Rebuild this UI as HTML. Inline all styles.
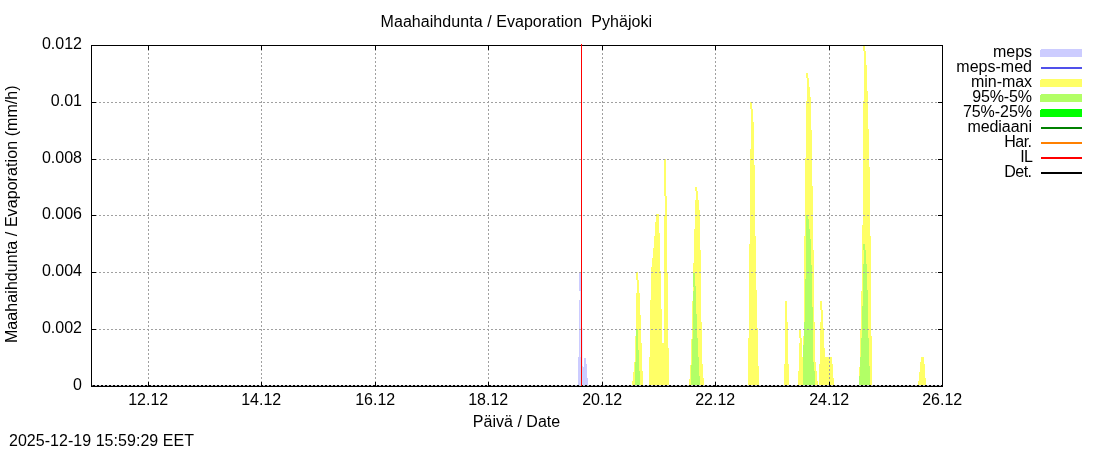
<!DOCTYPE html>
<html><head><meta charset="utf-8">
<style>
html,body{margin:0;padding:0;background:#fff;}
body{width:1100px;height:450px;overflow:hidden;font-family:"Liberation Sans",sans-serif;}
svg{display:block;will-change:transform;}
text{white-space:pre;font-family:"Liberation Sans",sans-serif;font-size:16px;fill:#000;}
</style></head><body>
<svg width="1100" height="450" viewBox="0 0 1100 450">
<rect width="1100" height="450" fill="#fff"/>
<g shape-rendering="crispEdges">
<path fill="#ccccff" d="M578 357H579V385H578ZM579 272H581V291H579ZM579 300H580V385H579ZM583 367H584V385H583ZM584 358H586V385H584ZM586 364H587V385H586ZM587 378H588V385H587Z"/>
<path fill="#dfe4ff" d="M580 291H581V357H580Z"/>
<path fill="#c8d8fb" d="M580 357H581V385H580ZM582 366H583V385H582Z"/>
<path fill="#ececff" d="M582 328H583V366H582Z"/>
<path fill="#ffff66" d="M636 272H638V280H636ZM637 280H639V293H637ZM636 293H640V315H636ZM636 315H641V336H636ZM635 336H641V343H635ZM635 343H642V362H635ZM634 362H642V371H634ZM634 371H643V372H634ZM633 372H643V381H633ZM632 381H643V385H632Z"/>
<path fill="#b2ff66" d="M636 329H638V350H636ZM636 350H639V362H636ZM635 362H639V371H635ZM635 371H640V385H635Z"/>
<path fill="#ffff66" d="M656 214H659V222H656ZM655 222H659V233H655ZM655 233H660V236H655ZM654 236H660V248H654ZM653 248H660V258H653ZM652 258H660V267H652ZM651 267H660V271H651ZM651 271H661V300H651ZM650 300H661V309H650ZM650 309H662V343H650ZM650 343H663V357H650ZM649 357H663V385H649Z"/>
<path fill="#ffff66" d="M664 159H666V196H664ZM665 196H667V216H665ZM664 216H667V272H664ZM664 272H668V343H664ZM663 343H668V348H663ZM663 348H669V385H663Z"/>
<path fill="#ffff66" d="M695 187H697V191H695ZM696 191H698V200H696ZM695 200H699V210H695ZM695 210H700V229H695ZM694 229H700V250H694ZM694 250H701V263H694ZM693 263H701V301H693ZM692 301H701V322H692ZM692 322H702V339H692ZM691 339H702V364H691ZM691 364H703V365H691ZM690 365H703V378H690ZM690 378H704V379H690ZM689 379H704V385H689Z"/>
<path fill="#b2ff66" d="M693 273H695V286H693ZM693 286H696V314H693ZM693 314H697V338H693ZM693 338H698V339H693ZM692 339H698V357H692ZM692 357H699V365H692ZM691 365H699V376H691ZM691 376H700V385H691Z"/>
<path fill="#ffff66" d="M693 287H694V291H693Z"/>
<path fill="#ffff66" d="M750 102H752V109H750ZM751 109H753V122H751ZM751 122H754V149H751ZM750 149H754V165H750ZM750 165H755V236H750ZM750 236H756V244H750ZM749 244H756V290H749ZM749 290H757V328H749ZM749 328H758V338H749ZM748 338H758V366H748ZM748 366H759V385H748Z"/>
<path fill="#ffff66" d="M785 301H787V322H785ZM785 322H788V364H785ZM784 364H789V385H784Z"/>
<path fill="#ffff66" d="M799 330H801V338H799ZM800 338H802V343H800ZM799 343H802V357H799ZM799 357H803V371H799ZM798 371H803V385H798Z"/>
<path fill="#ffff66" d="M806 73H808V78H806ZM807 78H809V87H807ZM807 87H810V97H807ZM807 97H811V101H807ZM806 101H811V130H806ZM806 130H812V158H806ZM805 158H812V186H805ZM805 186H813V236H805ZM804 236H813V250H804ZM804 250H814V322H804ZM804 322H815V336H804ZM803 336H815V362H803ZM803 362H816V371H803ZM803 371H817V381H803ZM803 381H818V385H803Z"/>
<path fill="#b2ff66" d="M806 215H808V219H806ZM806 219H809V229H806ZM806 229H810V239H806ZM806 239H811V265H806ZM806 265H812V279H806ZM805 279H812V307H805ZM805 307H813V322H805ZM804 322H813V345H804ZM803 345H813V362H803ZM803 362H814V371H803ZM803 371H815V385H803Z"/>
<path fill="#ffff66" d="M820 301H822V310H820ZM821 310H823V322H821ZM820 322H823V328H820ZM820 328H824V348H820ZM820 348H825V357H820ZM820 357H832V364H820ZM819 364H833V378H819ZM819 378H834V385H819Z"/>
<path fill="#ffff66" d="M863 46H865V51H863ZM864 51H866V65H864ZM864 65H867V91H864ZM864 91H868V101H864ZM863 101H868V129H863ZM863 129H869V167H863ZM863 167H870V225H863ZM862 225H870V236H862ZM862 236H871V291H862ZM861 291H871V329H861ZM860 329H871V336H860ZM860 336H872V367H860ZM859 367H872V385H859Z"/>
<path fill="#b2ff66" d="M863 244H865V250H863ZM864 250H866V264H864ZM863 264H867V290H863ZM863 290H868V306H863ZM862 306H868V338H862ZM861 338H869V357H861ZM860 357H869V366H860ZM860 366H870V376H860ZM859 376H870V385H859Z"/>
<path fill="#ffff66" d="M921 357H924V362H921ZM920 362H924V364H920ZM920 364H925V372H920ZM919 372H925V378H919ZM919 378H926V381H919ZM918 381H926V385H918Z"/>
</g>
<g stroke="#a0a0a0" stroke-width="1" stroke-dasharray="2 2" shape-rendering="crispEdges" fill="none">
<path d="M91 102.5H942M91 159.5H942M91 215.5H942M91 272.5H942M91 329.5H942"/>
<path d="M148.5 45V386M261.5 45V386M375.5 45V386M488.5 45V386M602.5 45V386M715.5 45V386M829.5 45V386"/>
</g>
<g stroke="#000" stroke-width="1" shape-rendering="crispEdges" fill="none">
<path d="M91.5 45.5H942.5V386.5H91.5Z"/>
<path d="M92 385.5H942" stroke="#c4c4cc"/>
<path d="M92 385.5H93" stroke="#707070"/>
<path d="M93 385.5H942" stroke-dasharray="2 2"/>
</g>
<rect shape-rendering="crispEdges" x="581" y="44" width="1" height="342" fill="#ff0000"/>
<g stroke="#000" stroke-width="1" shape-rendering="crispEdges">
<path d="M148.5 46V50M148.5 386V382M261.5 46V50M261.5 386V382M375.5 46V50M375.5 386V382M488.5 46V50M488.5 386V382M602.5 46V50M602.5 386V382M715.5 46V50M715.5 386V382M829.5 46V50M829.5 386V382M92 102.5H96M942 102.5H938M92 159.5H96M942 159.5H938M92 215.5H96M942 215.5H938M92 272.5H96M942 272.5H938M92 329.5H96M942 329.5H938"/>
</g>
<g shape-rendering="crispEdges">
<rect x="1040" y="49" width="42" height="8" fill="#ccccff"/>
<rect x="1041" y="67" width="41" height="2" fill="#5050ea"/>
<rect x="1040" y="79" width="42" height="8" fill="#ffff66"/>
<rect x="1040" y="94" width="42" height="8" fill="#b2ff66"/>
<rect x="1040" y="109" width="42" height="8" fill="#00ff00"/>
<rect x="1041" y="127" width="41" height="2" fill="#008000"/>
<rect x="1041" y="142" width="41" height="2" fill="#ff8000"/>
<rect x="1041" y="157" width="41" height="2" fill="#ff0000"/>
<rect x="1041" y="172" width="41" height="2" fill="#000"/>
<path fill="#fff" d="M1040 49h1v1h-1zM1040 79h1v1h-1zM1040 94h1v1h-1zM1040 109h1v1h-1z"/>
</g>
<g>
<text x="516.3" y="27" text-anchor="middle" textLength="271.52">Maahaihdunta / Evaporation  Pyhäjoki</text>
<text x="516.5" y="427" text-anchor="middle" textLength="87.36">Päivä / Date</text>
<text x="9" y="446" textLength="184.94">2025-12-19 15:59:29 EET</text>
<text transform="translate(17,214.2) rotate(-90)" text-anchor="middle" textLength="257.75">Maahaihdunta / Evaporation (mm/h)</text>
<text x="148.2" y="405" text-anchor="middle">12.12</text>
<text x="261.2" y="405" text-anchor="middle">14.12</text>
<text x="375.2" y="405" text-anchor="middle">16.12</text>
<text x="488.2" y="405" text-anchor="middle">18.12</text>
<text x="602.2" y="405" text-anchor="middle">20.12</text>
<text x="715.2" y="405" text-anchor="middle">22.12</text>
<text x="829.2" y="405" text-anchor="middle">24.12</text>
<text x="942.2" y="405" text-anchor="middle">26.12</text>
<text x="82" y="49" text-anchor="end">0.012</text>
<text x="82" y="106" text-anchor="end">0.01</text>
<text x="82" y="163" text-anchor="end">0.008</text>
<text x="82" y="219" text-anchor="end">0.006</text>
<text x="82" y="276" text-anchor="end">0.004</text>
<text x="82" y="333" text-anchor="end">0.002</text>
<text x="82" y="390" text-anchor="end">0</text>
<text x="1032" y="57" text-anchor="end" textLength="39.02">meps</text>
<text x="1032" y="72" text-anchor="end" textLength="75.68">meps-med</text>
<text x="1032" y="87" text-anchor="end" textLength="60.98">min-max</text>
<text x="1032" y="102" text-anchor="end" textLength="59.81">95%-5%</text>
<text x="1032" y="117" text-anchor="end" textLength="69.11">75%-25%</text>
<text x="1032" y="132" text-anchor="end" textLength="64.62">mediaani</text>
<text x="1032" y="147" text-anchor="end" textLength="27.64">Har.</text>
<text x="1032.8" y="162" text-anchor="end" textLength="12.64">IL</text>
<text x="1032" y="177" text-anchor="end" textLength="27.64">Det.</text>
</g>
</svg>
</body></html>
